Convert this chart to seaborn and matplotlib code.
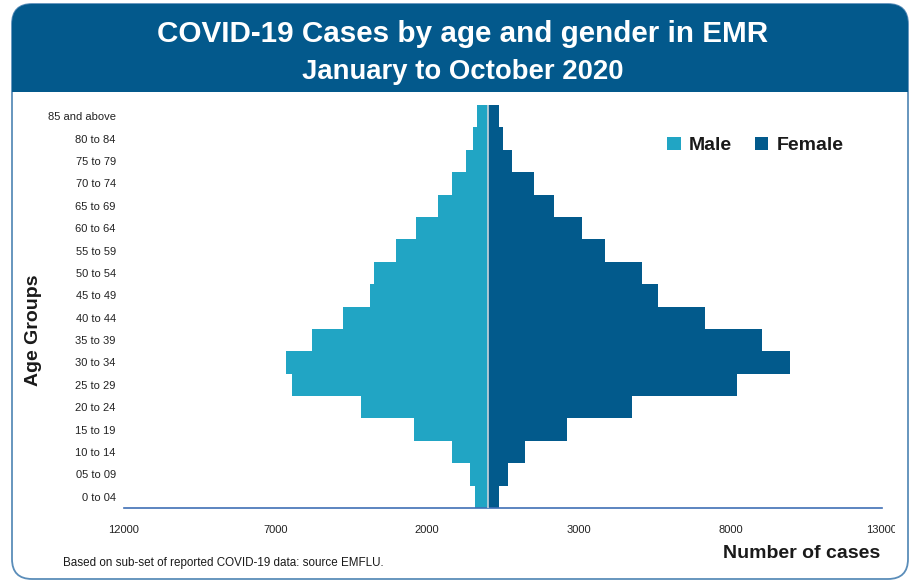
import pandas as pd
import seaborn as sns
import matplotlib.pyplot as plt
from matplotlib.patches import FancyBboxPatch, Rectangle
from matplotlib.transforms import Bbox

age_groups = ["85 and above", "80 to 84", "75 to 79", "70 to 74", "65 to 69", "60 to 64",
              "55 to 59", "50 to 54", "45 to 49", "40 to 44", "35 to 39", "30 to 34",
              "25 to 29", "20 to 24", "15 to 19", "10 to 14", "05 to 09", "0 to 04"]
male = [354, 487, 708, 1192, 1655, 2383, 3045, 3754, 3873, 4790, 5783, 6643,
        6468, 4194, 2430, 1172, 596, 420]
female = [374, 516, 804, 1533, 2195, 3098, 3850, 5085, 5615, 7170, 9048, 9965,
          8230, 4745, 2600, 1211, 662, 384]
tick_vals = [-12000, -7000, -2000, 3000, 8000, 13000]

male_col = "#21A5C4"
female_col = "#025A8C"
header_col = "#03598C"

df = pd.DataFrame({"Age": age_groups * 2,
                   "Cases": [-v for v in male] + female,
                   "Gender": ["Male"] * len(male) + ["Female"] * len(female)})

sns.set_style("white")
plt.rcParams['font.family'] = ['Liberation Sans', 'DejaVu Sans']

fig = plt.figure(figsize=(9.1, 5.85), dpi=100)

# frame and header band (behind the axes)
fx0, fx1 = 12/910, 908/910
fig.patches.append(FancyBboxPatch((fx0, 1-579/585), fx1-fx0, 575/585,
                                  boxstyle="round,pad=0,rounding_size=0.022",
                                  transform=fig.transFigure, facecolor="white",
                                  edgecolor="#5A8DB9", linewidth=1.3, zorder=-3,
                                  mutation_aspect=910/585))
fig.patches.append(FancyBboxPatch((fx0, 1-92/585), fx1-fx0, 88/585,
                                  boxstyle="round,pad=0,rounding_size=0.022",
                                  transform=fig.transFigure, facecolor=header_col,
                                  edgecolor="none", zorder=-2,
                                  mutation_aspect=910/585))
fig.patches.append(Rectangle((fx0, 1-92/585), fx1-fx0, 45/585,
                             transform=fig.transFigure, facecolor=header_col,
                             edgecolor="none", zorder=-1))

ax = fig.add_axes([124/910, 1-508/585, 758/910, 403/585])
ax.set_facecolor("none")
sns.barplot(data=df, x="Cases", y="Age", hue="Gender", order=age_groups,
            palette={"Male": male_col, "Female": female_col}, dodge=False,
            orient="h", width=1.0, saturation=1, linewidth=0, ax=ax)
ax.axvline(0, color="#C9D3DA", linewidth=1.2, zorder=5)

ax.set_xlim(-12000, 13000)
ax.set_xticks(tick_vals)
ax.set_xticklabels([str(abs(v)) for v in tick_vals], fontsize=8, color="#222222")
ax.tick_params(axis="y", labelsize=8, length=0, pad=6, labelcolor="#222222")
ax.tick_params(axis="x", length=0, pad=12)
for s in ["top", "right", "left"]:
    ax.spines[s].set_visible(False)
ax.spines["bottom"].set_color("#3F6FB5")
ax.spines["bottom"].set_linewidth(1.2)
ax.set_xlabel("")
ax.set_ylabel("")

# last tick label is cut by the frame in the original
last = ax.get_xticklabels()[-1]
last.set_clip_on(True)
last.set_clip_box(Bbox([[0, 0], [895, 585]]))

leg = ax.legend(loc="upper right", bbox_to_anchor=(0.972, 0.965), frameon=False,
                ncol=2, handlelength=0.7, handleheight=0.7, handletextpad=0.4,
                columnspacing=1.2, prop={"weight": "bold", "size": 14})
for t in leg.get_texts():
    t.set_color("#1a1a1a")

fig.text(463/910, 1-34/585, "COVID-19 Cases by age and gender in EMR", ha="center", va="center",
         color="white", fontsize=21.3, weight="bold")
fig.text(463/910, 1-72/585, "January to October 2020", ha="center", va="center",
         color="white", fontsize=19.8, weight="bold")
fig.text(33/910, 1-330/585, "Age Groups", rotation=90, ha="center", va="center",
         fontsize=14, weight="bold", color="#1a1a1a")
fig.text(880/910, 1-553/585, "Number of cases", ha="right", va="center",
         fontsize=14, weight="bold", color="#1a1a1a")
fig.text(63/910, 1-563/585, "Based on sub-set of reported COVID-19 data: source EMFLU.",
         ha="left", va="center", fontsize=8.4, color="#1a1a1a")

fig.savefig("out.png", dpi=100)
